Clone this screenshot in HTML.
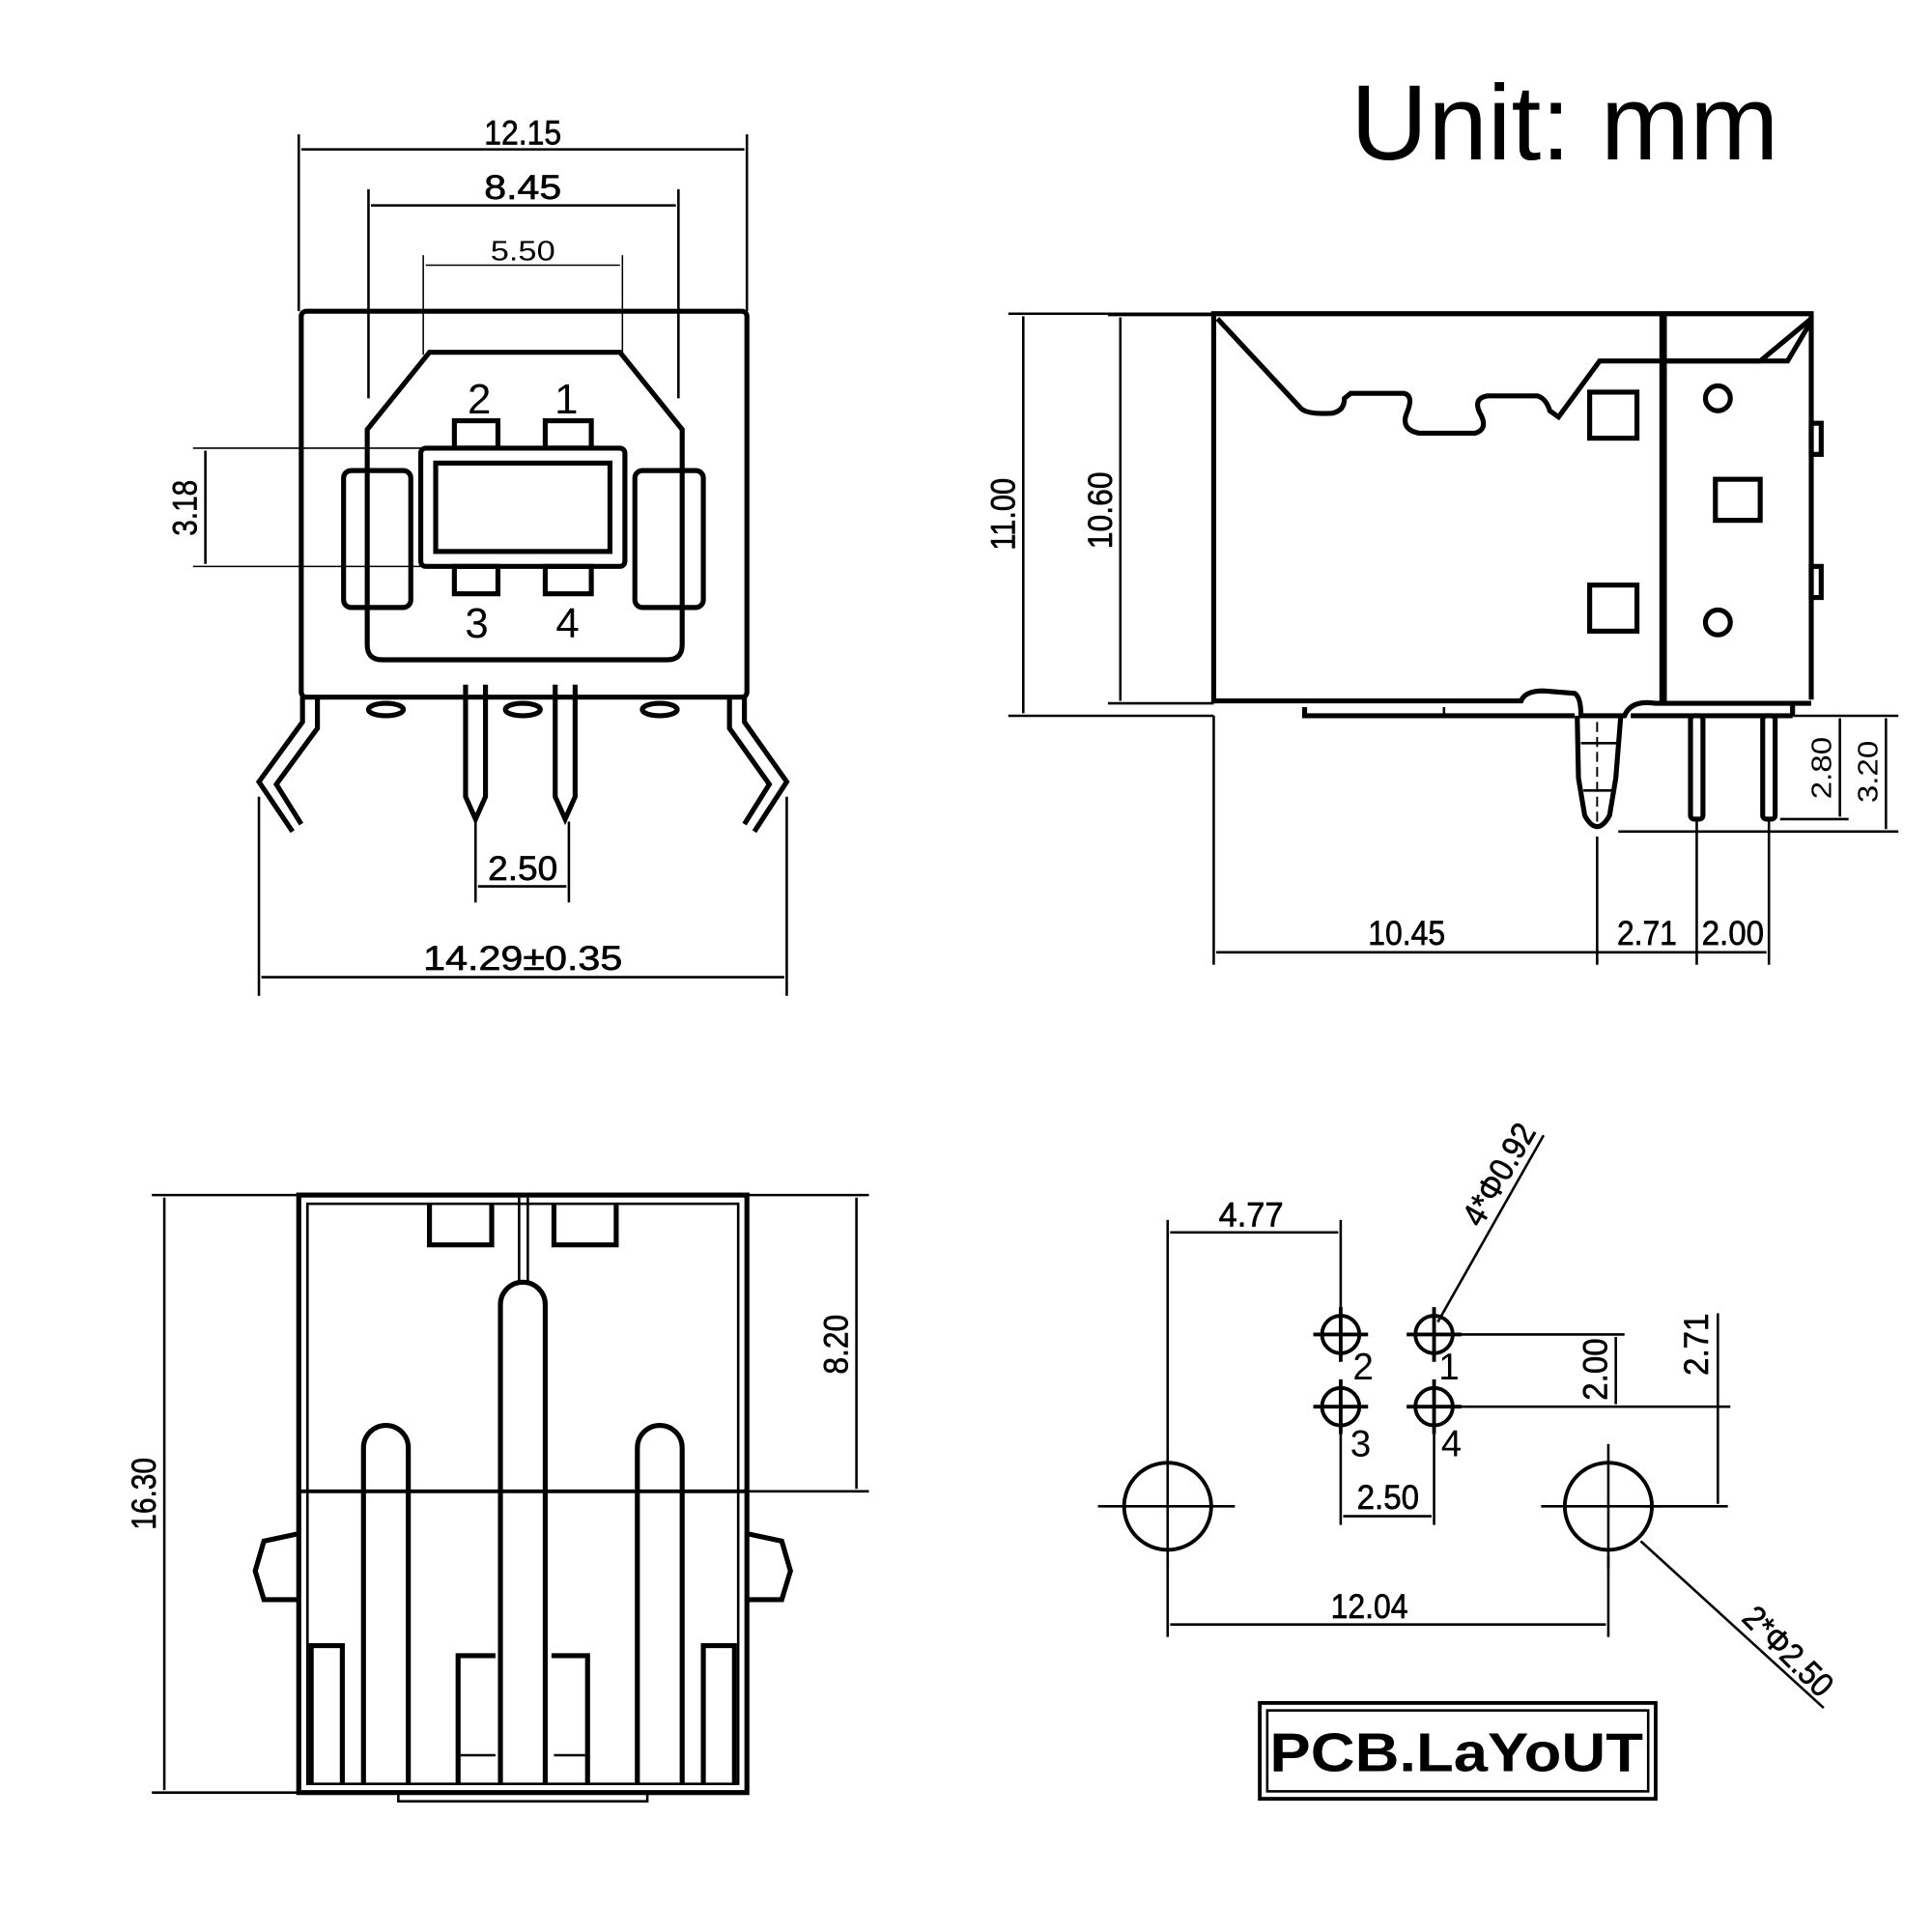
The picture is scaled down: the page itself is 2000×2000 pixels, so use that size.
<!DOCTYPE html>
<html><head><meta charset="utf-8"><style>
html,body{margin:0;padding:0;background:#fff;}
svg{display:block;}
text{font-family:"Liberation Sans",sans-serif;fill:#000;}
.d{font-size:27px;stroke:#000;stroke-width:0.5;}
</style></head><body>
<svg width="2000" height="2000" viewBox="0 0 1552 1552" xmlns="http://www.w3.org/2000/svg">
<rect width="1552" height="1552" fill="#fff"/>
<text x="1085" y="128" font-size="86">Unit: mm</text>

<g fill="none" stroke="#000" stroke-width="2">
<line x1="240" y1="108" x2="240" y2="250"/><line x1="600" y1="108" x2="600" y2="250"/>
<line x1="242" y1="120" x2="598" y2="120"/>
<line x1="296" y1="152" x2="296" y2="320"/><line x1="545" y1="152" x2="545" y2="320"/>
<line x1="298" y1="165" x2="543" y2="165"/>
<line x1="340" y1="205" x2="340" y2="285" stroke-width="1.2"/><line x1="500" y1="205" x2="500" y2="285" stroke-width="1.2"/>
<line x1="342" y1="213" x2="498" y2="213" stroke-width="1.2"/>
<line x1="155" y1="360" x2="340" y2="360" stroke-width="1.2"/><line x1="155" y1="455" x2="340" y2="455" stroke-width="1.2"/>
<line x1="165" y1="362" x2="165" y2="453"/>
<line x1="382" y1="660" x2="382" y2="725"/><line x1="457" y1="660" x2="457" y2="725"/>
<line x1="384" y1="712" x2="455" y2="712"/>
<line x1="208" y1="640" x2="208" y2="800"/><line x1="632" y1="640" x2="632" y2="800"/>
<line x1="210" y1="785" x2="630" y2="785"/>
</g>
<g fill="none" stroke="#000" stroke-width="4">
<rect x="242" y="250" width="358" height="310" rx="4"/>
<path d="M345,283 L498,283 L548,345 L548,518 Q548,530 536,530 L307,530 Q295,530 295,518 L295,345 Z"/>
<rect x="276" y="378" width="54" height="110" rx="6"/>
<rect x="510" y="378" width="55" height="110" rx="6"/>
<rect x="338" y="360" width="164" height="95" rx="4"/>
<rect x="350" y="372" width="140" height="71"/>
<rect x="365" y="338" width="35" height="22"/><rect x="438" y="338" width="37" height="22"/>
<rect x="365" y="455" width="35" height="22"/><rect x="438" y="455" width="37" height="22"/>
<path d="M243,560 L243,580 L208,628 L235,668"/>
<path d="M255,560 L255,585 L222,630 L242,662"/>
<path d="M598,560 L598,580 L632,628 L606,668"/>
<path d="M586,560 L586,585 L618,630 L598,662"/>
<path d="M374,550 L374,640 L382,658 L390,640 L390,550"/>
<path d="M446,550 L446,640 L454,658 L462,640 L462,550"/>
<ellipse cx="310" cy="570" rx="14" ry="5"/><ellipse cx="420" cy="570" rx="14" ry="5"/><ellipse cx="530" cy="570" rx="14" ry="5"/>
</g>
<text x="385" y="332" font-size="34" text-anchor="middle">2</text>
<text x="455" y="332" font-size="34" text-anchor="middle">1</text>
<text x="383" y="512" font-size="34" text-anchor="middle">3</text>
<text x="456" y="512" font-size="34" text-anchor="middle">4</text>
<text class="d" x="420" y="116" text-anchor="middle" textLength="62" lengthAdjust="spacingAndGlyphs">12.15</text>
<text class="d" x="420" y="160" text-anchor="middle" textLength="62" lengthAdjust="spacingAndGlyphs">8.45</text>
<text x="420" y="209" font-size="22" text-anchor="middle" textLength="52" lengthAdjust="spacingAndGlyphs" fill="#444">5.50</text>
<text class="d" transform="translate(158,408) rotate(-90)" text-anchor="middle" textLength="45" lengthAdjust="spacingAndGlyphs">3.18</text>
<text class="d" x="420" y="707" text-anchor="middle" textLength="56" lengthAdjust="spacingAndGlyphs">2.50</text>
<text class="d" x="420" y="779" text-anchor="middle" textLength="160" lengthAdjust="spacingAndGlyphs">14.29±0.35</text>

<g fill="none" stroke="#000" stroke-width="2">
<line x1="810" y1="252" x2="975" y2="252"/><line x1="810" y1="575" x2="975" y2="575"/>
<line x1="822" y1="254" x2="822" y2="573"/>
<line x1="890" y1="253" x2="975" y2="253"/><line x1="890" y1="565" x2="975" y2="565"/>
<line x1="900" y1="255" x2="900" y2="563"/>
<line x1="1440" y1="575" x2="1525" y2="575"/><line x1="1430" y1="658" x2="1485" y2="658"/><line x1="1300" y1="668" x2="1525" y2="668"/>
<line x1="1478" y1="577" x2="1478" y2="656"/><line x1="1515" y1="577" x2="1515" y2="666"/>
<line x1="975" y1="575" x2="975" y2="775"/><line x1="1283" y1="672" x2="1283" y2="775"/>
<line x1="1363" y1="660" x2="1363" y2="775"/><line x1="1421" y1="660" x2="1421" y2="775"/>
<line x1="977" y1="765" x2="1419" y2="765"/>
</g>
<g fill="none" stroke="#000" stroke-width="4">
<path d="M975,565 L975,252 L1455,252 L1455,562"/>
<line x1="1336" y1="252" x2="1336" y2="565" stroke-width="6"/>
<path d="M978,256 L1045,328 Q1050,333 1070,332 Q1080,330 1080,320 L1085,316 L1128,316 Q1136,318 1130,332 Q1125,345 1140,348 L1185,348 Q1195,345 1190,334 Q1182,320 1195,318 L1235,318 Q1242,320 1245,330 L1252,335 L1285,290 L1436,290 L1455,258"/>
<path d="M1336,290 L1414,290 L1455,256"/>
<rect x="1277" y="315" width="38" height="37"/><rect x="1277" y="470" width="38" height="37"/>
<rect x="1378" y="385" width="36" height="33"/>
<circle cx="1380" cy="320" r="10"/><circle cx="1380" cy="500" r="10"/>
<rect x="1455" y="340" width="8" height="25"/><rect x="1455" y="455" width="8" height="25"/>
<path d="M975,563 L1222,563 Q1225,555 1240,555 L1265,557 Q1270,560 1270,575 L1305,575 Q1310,562 1330,565 L1455,565"/>
<path d="M1048,568 L1048,575 L1265,575"/><line x1="1440" y1="565" x2="1440" y2="575"/><line x1="1310" y1="575" x2="1440" y2="575"/>
<line x1="1160" y1="568" x2="1160" y2="575" stroke-width="2"/>
<path d="M1267,575 L1268,625 L1273,655 Q1283,673 1293,655 L1298,625 L1302,575"/>
<line x1="1270" y1="597" x2="1300" y2="597" stroke-width="2"/><line x1="1272" y1="635" x2="1296" y2="635" stroke-width="2"/>
<line x1="1283" y1="580" x2="1283" y2="665" stroke-width="1.5" stroke-dasharray="8,4"/>
<rect x="1358" y="575" width="10" height="83" rx="3"/><rect x="1416" y="575" width="10" height="83" rx="3"/>
</g>
<text class="d" transform="translate(815,413) rotate(-90)" text-anchor="middle" textLength="58" lengthAdjust="spacingAndGlyphs">11.00</text>
<text class="d" transform="translate(893,410) rotate(-90)" text-anchor="middle" textLength="62" lengthAdjust="spacingAndGlyphs">10.60</text>
<text font-size="22" transform="translate(1471,617) rotate(-90)" text-anchor="middle" textLength="50" lengthAdjust="spacingAndGlyphs">2.80</text>
<text font-size="22" transform="translate(1508,620) rotate(-90)" text-anchor="middle" textLength="50" lengthAdjust="spacingAndGlyphs">3.20</text>
<text class="d" x="1130" y="759" text-anchor="middle" textLength="62" lengthAdjust="spacingAndGlyphs">10.45</text>
<text class="d" x="1323" y="759" text-anchor="middle" textLength="48" lengthAdjust="spacingAndGlyphs">2.71</text>
<text class="d" x="1392" y="759" text-anchor="middle" textLength="50" lengthAdjust="spacingAndGlyphs">2.00</text>

<g fill="none" stroke="#000" stroke-width="2">
<line x1="122" y1="960" x2="240" y2="960"/><line x1="122" y1="1440" x2="240" y2="1440"/>
<line x1="132" y1="962" x2="132" y2="1438"/>
<line x1="600" y1="960" x2="698" y2="960"/><line x1="600" y1="1198" x2="698" y2="1198"/>
<line x1="688" y1="962" x2="688" y2="1196"/>
</g>
<g fill="none" stroke="#000" stroke-width="4">
<rect x="240" y="960" width="360" height="480"/>
<rect x="247" y="967" width="346" height="466" stroke-width="2"/>
<line x1="240" y1="1198" x2="600" y2="1198" stroke-width="3"/>
<line x1="417" y1="962" x2="417" y2="1030" stroke-width="2"/><line x1="424" y1="962" x2="424" y2="1030" stroke-width="2"/>
<path d="M345,967 L345,1000 L395,1000 L395,967"/><path d="M445,967 L445,1000 L495,1000 L495,967"/>
<path d="M402,1433 L402,1048 A18,18 0 0 1 438,1048 L438,1433"/>
<path d="M292,1433 L292,1163 A18,18 0 0 1 328,1163 L328,1433"/>
<path d="M512,1433 L512,1163 A18,18 0 0 1 548,1163 L548,1433"/>
<path d="M250,1433 L250,1322 L275,1322 L275,1433"/><path d="M565,1433 L565,1322 L590,1322 L590,1433"/>
<path d="M368,1433 L368,1330 L398,1330"/><line x1="370" y1="1410" x2="398" y2="1410" stroke-width="2"/>
<path d="M472,1433 L472,1330 L443,1330"/><line x1="445" y1="1410" x2="470" y2="1410" stroke-width="2"/>
<path d="M240,1232 L212,1238 L205,1262 L212,1285 L240,1285"/>
<path d="M600,1232 L628,1238 L635,1262 L628,1285 L600,1285"/>
<rect x="320" y="1440" width="200" height="7" stroke-width="2"/>
</g>
<text class="d" transform="translate(125,1200) rotate(-90)" text-anchor="middle" textLength="58" lengthAdjust="spacingAndGlyphs">16.30</text>
<text class="d" transform="translate(681,1080) rotate(-90)" text-anchor="middle" textLength="48" lengthAdjust="spacingAndGlyphs">8.20</text>

<g fill="none" stroke="#000" stroke-width="2">
<line x1="938" y1="980" x2="938" y2="1160"/><line x1="1077" y1="980" x2="1077" y2="1055"/>
<line x1="940" y1="990" x2="1075" y2="990"/>
<line x1="1155" y1="1062" x2="1240" y2="912"/>
<line x1="1168" y1="1072" x2="1305" y2="1072"/><line x1="1168" y1="1130" x2="1390" y2="1130"/>
<line x1="1298" y1="1074" x2="1298" y2="1128"/>
<line x1="1320" y1="1210" x2="1388" y2="1210"/><line x1="1380" y1="1055" x2="1380" y2="1208"/>
<line x1="1077" y1="1148" x2="1077" y2="1225"/><line x1="1152" y1="1148" x2="1152" y2="1225"/>
<line x1="1079" y1="1218" x2="1150" y2="1218"/>
<line x1="938" y1="1250" x2="938" y2="1315"/><line x1="1292" y1="1250" x2="1292" y2="1315"/>
<line x1="940" y1="1305" x2="1290" y2="1305"/>
<line x1="1318" y1="1238" x2="1465" y2="1372"/>
</g>
<g fill="none" stroke="#000" stroke-width="3">
<circle cx="1077" cy="1072" r="15"/><circle cx="1152" cy="1072" r="15"/>
<circle cx="1077" cy="1130" r="15"/><circle cx="1152" cy="1130" r="15"/>
<path d="M1055,1072 H1099 M1077,1050 V1094 M1130,1072 H1174 M1152,1050 V1094 M1055,1130 H1099 M1077,1108 V1152 M1130,1130 H1174 M1152,1108 V1152"/>
<circle cx="938" cy="1210" r="35"/><circle cx="1292" cy="1210" r="35"/>
<path d="M882,1210 H992 M938,1160 V1260 M1238,1210 H1335 M1292,1160 V1260" stroke-width="2"/>
<rect x="1012" y="1368" width="318" height="77"/>
<rect x="1018" y="1374" width="306" height="65" stroke-width="2"/>
</g>
<text x="1095" y="1108" font-size="30" text-anchor="middle">2</text>
<text x="1164" y="1108" font-size="30" text-anchor="middle">1</text>
<text x="1093" y="1170" font-size="30" text-anchor="middle">3</text>
<text x="1166" y="1170" font-size="30" text-anchor="middle">4</text>
<text class="d" x="1005" y="985" text-anchor="middle" textLength="52" lengthAdjust="spacingAndGlyphs">4.77</text>
<text class="d" transform="translate(1212,948) rotate(-60)" text-anchor="middle" textLength="90" lengthAdjust="spacingAndGlyphs">4*Φ0.92</text>
<text class="d" transform="translate(1291,1100) rotate(-90)" text-anchor="middle" textLength="50" lengthAdjust="spacingAndGlyphs">2.00</text>
<text class="d" transform="translate(1372,1080) rotate(-90)" text-anchor="middle" textLength="50" lengthAdjust="spacingAndGlyphs">2.71</text>
<text class="d" x="1115" y="1212" text-anchor="middle" textLength="50" lengthAdjust="spacingAndGlyphs">2.50</text>
<text class="d" x="1100" y="1300" text-anchor="middle" textLength="62" lengthAdjust="spacingAndGlyphs">12.04</text>
<text class="d" transform="translate(1430,1333) rotate(45)" text-anchor="middle" textLength="90" lengthAdjust="spacingAndGlyphs">2*Φ2.50</text>
<text x="1170" y="1423" font-size="44" font-weight="bold" text-anchor="middle" textLength="300" lengthAdjust="spacingAndGlyphs">PCB.LaYoUT</text>
</svg>
</body></html>
